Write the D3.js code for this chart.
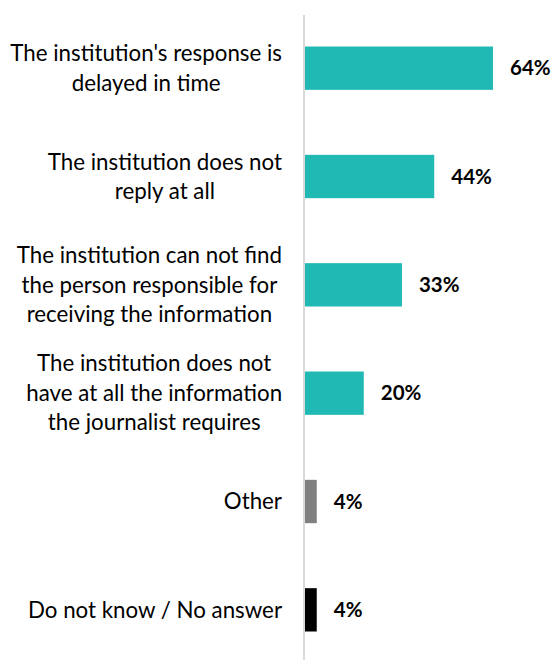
<!DOCTYPE html>
<html>
<head>
<meta charset="utf-8">
<script src="https://cdn.jsdelivr.net/npm/d3@7/dist/d3.min.js"></script>
<style>
  html, body { margin: 0; padding: 0; background: #fff; }
  svg { display: block; }
  text { font-family: "Lato", "Open Sans", sans-serif; fill: #000; }
</style>
</head>
<body>
<svg id="chart" width="553" height="660"></svg>
<script>
const categories = [
  ["The institution's response is", "delayed in time"],
  ["The institution does not", "reply at all"],
  ["The institution can not find", "the person responsible for", "receiving the information"],
  ["The institution does not", "have at all the information", "the journalist requires"],
  ["Other"],
  ["Do not know / No answer"]
];
const values = [64, 44, 33, 20, 4, 4];
const colors = ["#20b9b4", "#20b9b4", "#20b9b4", "#20b9b4", "#808080", "#000000"];

const W = 553, H = 660;
const svg = d3.select("#chart");

const x = d3.scaleLinear().domain([0, 64]).range([305, 493]);
const y = d3.scaleBand().domain(d3.range(values.length)).range([14, 664]).paddingInner(0.6).paddingOuter(0.3);

const rows = svg.selectAll("g.row").data(values).join("g").attr("class", "row");

rows.append("rect")
  .attr("x", x(0))
  .attr("y", (d, i) => y(i))
  .attr("width", d => x(d) - x(0))
  .attr("height", y.bandwidth())
  .attr("fill", (d, i) => colors[i]);

rows.append("text")
  .attr("x", d => x(d) + 17)
  .attr("y", (d, i) => y(i) + y.bandwidth() / 2)
  .attr("dy", "0.35em")
  .attr("font-size", 20.5)
  .attr("font-weight", "bold")
  .text(d => d + "%");

// Category labels: block right-aligned to the axis, lines centred within the block
const lineH = 29.5;
const labelRight = 282;
rows.each(function (d, i) {
  const lines = categories[i];
  const t = d3.select(this).append("text")
    .attr("text-anchor", "middle")
    .attr("font-size", 22.3)
    .attr("y", y(i) + y.bandwidth() / 2 - (lines.length - 1) * lineH / 2);
  const spans = t.selectAll("tspan").data(lines).join("tspan")
    .attr("dy", (s, j) => j === 0 ? "0.35em" : lineH)
    .text(s => s);
  const maxW = d3.max(spans.nodes(), n => n.getComputedTextLength());
  spans.attr("x", labelRight - maxW / 2);
});

// category axis line
svg.append("line")
  .attr("x1", 304).attr("x2", 304)
  .attr("y1", 15).attr("y2", H)
  .attr("stroke", "#d9d9d9")
  .attr("stroke-width", 2);
</script>
</body>
</html>
